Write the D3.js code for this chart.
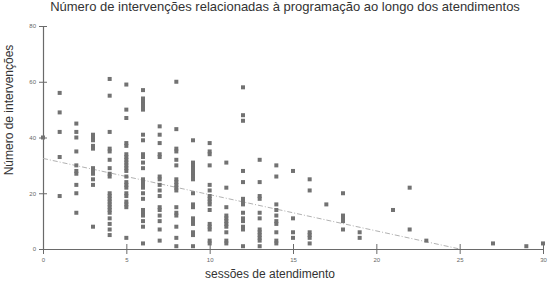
<!DOCTYPE html>
<html><head><meta charset="utf-8">
<script src="https://cdn.jsdelivr.net/npm/d3@7"></script>
<style>body{margin:0;background:#fff}svg{display:block}</style>
</head><body>
<svg id="c" width="550" height="285"></svg>
<script>
// Data
const sessoes = [0,1,2,3,4,5,6,7,8,9,10,11,12,13,14,15,16,17,18,19,21,22,23,27,29,30];
const intervencoes = [
  [40],
  [56,49,42,33,19],
  [45,42,40,35,30,28,27,23,20,13],
  [41,40,39,37,36,29,28,27,25,23,8],
  [61,55,42,36,35,32,29,27,26,20,19,18,17,16,15,14,13,11,9,7,5],
  [59,50,47,38,37,34,33,32,31,30,29,28,26,24,23,22,20,19,17,16,15,4],
  [57,54,53,52,51,50,41,39,34,33,31,29,25,24,23,22,20,18,14,13,12,10,8,2],
  [44,41,38,34,33,26,25,23,21,19,15,14,12,10,7,3],
  [60,43,36,35,32,30,25,24,23,22,21,15,13,12,8,4,1],
  [39,31,30,29,28,27,26,25,20,16,15,11,10,9,6,5,1],
  [38,35,34,30,23,21,19,18,17,16,14,9,8,7,3,2],
  [31,22,15,12,11,10,9,8,6,3,2],
  [58,48,46,28,24,18,17,16,13,11,10,8,7,1],
  [32,24,19,18,13,11,7,6,5,4,3,1],
  [30,26,16,14,12,10,9,6,3,2],
  [28,11,6,4],
  [25,21,6,5,4,2],
  [16],
  [20,12,11,10,7],
  [6,4],
  [14],
  [22,7],
  [3],
  [2],
  [1],
  [2]
];
const trendX = [0, 25];
const trendY = [32.5, 0];
const xTicks = [0,5,10,15,20,25,30];
const yTicks = [0,20,40,60,80];
const titulo = "Número de intervenções relacionadas à programação ao longo dos atendimentos";
const xTitulo = "sessões de atendimento";
const yTitulo = "Número de intervenções";

const svg = d3.select("#c");
const x = d3.scaleLinear().domain([0,30]).range([43,543]);
const y = d3.scaleLinear().domain([0,80]).range([249,26]);

const axisColor = "#6a6a6a";
const font = "Liberation Sans, Arial, sans-serif";

// axes
const gx = svg.append("g").attr("transform","translate(0,249)")
  .call(d3.axisBottom(x).tickValues(xTicks).tickSizeInner(5).tickSizeOuter(0).tickPadding(4));
gx.selectAll(".tick line").attr("y1",-5).attr("y2",5);
const gy = svg.append("g").attr("transform","translate(43,0)")
  .call(d3.axisLeft(y).tickValues(yTicks).tickSizeInner(4).tickSizeOuter(0).tickPadding(3));
gy.selectAll(".tick line").attr("x1",-4).attr("x2",4);
[gx,gy].forEach(g=>{
  g.select(".domain").attr("stroke",axisColor).attr("stroke-width",1.2);
  g.selectAll(".tick line").attr("stroke",axisColor);
  g.selectAll(".tick text").attr("fill","#666").attr("font-size","6px").attr("font-family",font);
});

// trend line
svg.append("line")
  .attr("x1",x(trendX[0])).attr("y1",y(trendY[0]))
  .attr("x2",x(trendX[1])).attr("y2",y(trendY[1]))
  .attr("stroke","#a8a8a8").attr("stroke-width",0.9)
  .attr("stroke-dasharray","5,2,1,2");

// points
const pts = [];
sessoes.forEach((s,i)=>intervencoes[i].forEach(v=>pts.push([s,v])));
const sz = 4;
svg.append("g").selectAll("rect").data(pts).join("rect")
  .attr("x",d=>x(d[0])-sz/2).attr("y",d=>y(d[1])-sz/2)
  .attr("width",sz).attr("height",sz).attr("fill","#727272");

// titles
svg.append("text").attr("x",285).attr("y",11).attr("text-anchor","middle")
  .attr("font-family",font).attr("font-size","13px").attr("fill","#333").text(titulo);
svg.append("text").attr("x",270).attr("y",278).attr("text-anchor","middle")
  .attr("font-family",font).attr("font-size","12px").attr("fill","#333").text(xTitulo);
svg.append("text").attr("transform","translate(13,110) rotate(-90)").attr("text-anchor","middle")
  .attr("font-family",font).attr("font-size","12px").attr("fill","#333").text(yTitulo);
</script>
</body></html>
